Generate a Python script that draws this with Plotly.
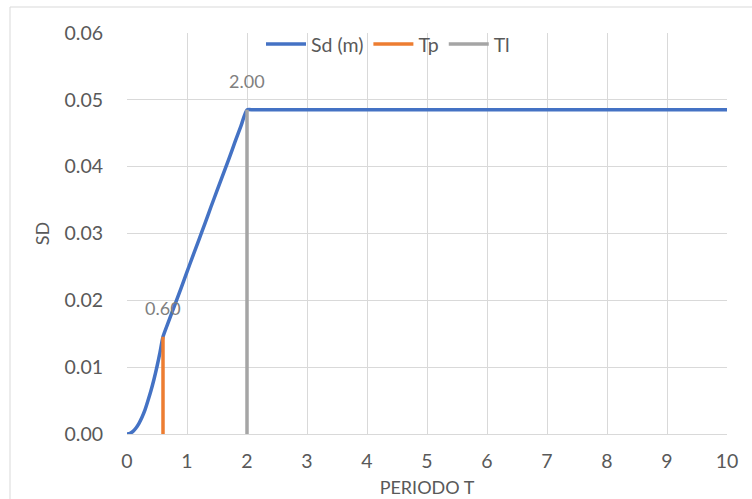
import plotly.graph_objects as go

# Displacement spectrum Sd (m) versus period T (s)
period = [0.0, 0.05, 0.1, 0.15, 0.2, 0.25, 0.3, 0.35, 0.4, 0.45, 0.5, 0.55, 0.6,
          0.7, 0.8, 0.9, 1.0, 1.1, 1.2, 1.3, 1.4, 1.5, 1.6, 1.7, 1.8, 1.9, 2.0,
          2.1, 2.2, 2.5, 3.0, 4.0, 5.0, 6.0, 7.0, 8.0, 9.0, 10.0]
sd = [0.0, 0.0001, 0.0004, 0.0009, 0.0016, 0.0025, 0.0036, 0.0050, 0.0065, 0.0082,
      0.0101, 0.0122, 0.01455,
      0.0170, 0.0194, 0.0218, 0.02425, 0.0267, 0.0291, 0.0315, 0.0340, 0.0364,
      0.0388, 0.0412, 0.0437, 0.0461, 0.0485,
      0.0485, 0.0485, 0.0485, 0.0485, 0.0485, 0.0485, 0.0485, 0.0485, 0.0485,
      0.0485, 0.0485]

# Corner periods Tp and Tl drawn as vertical markers
tp_x = [0.6, 0.6]
tp_y = [0.0, 0.01455]
tl_x = [2.0, 2.0]
tl_y = [0.0, 0.0485]

x_ticks = [0, 1, 2, 3, 4, 5, 6, 7, 8, 9, 10]
y_ticks = [0.0, 0.01, 0.02, 0.03, 0.04, 0.05, 0.06]

BLUE = "#4472C4"
ORANGE = "#ED7D31"
GRAY = "#A5A5A5"
TEXT = "#595959"
GRID = "#D9D9D9"
FONT = "Lato, 'Open Sans', sans-serif"

fig = go.Figure()
fig.add_trace(go.Scatter(x=period, y=sd, mode="lines", name="Sd (m)",
                         line=dict(color=BLUE, width=3.5, shape="spline", smoothing=0.6)))
fig.add_trace(go.Scatter(x=tp_x, y=tp_y, mode="lines", name="Tp",
                         line=dict(color=ORANGE, width=3.5)))
fig.add_trace(go.Scatter(x=tl_x, y=tl_y, mode="lines", name="Tl",
                         line=dict(color=GRAY, width=3.5)))

# Value labels above the top of each corner-period line
for xs, ys in ((tp_x, tp_y), (tl_x, tl_y)):
    fig.add_annotation(x=xs[-1], y=ys[-1], text=f"{xs[-1]:.2f}", showarrow=False,
                       yshift=29, font=dict(family=FONT, size=18, color="#7F7F7F"))

# Light outer chart frame
fig.add_shape(type="rect", xref="paper", yref="paper",
              x0=(10 - 127) / 600, x1=(770 - 127) / 600,
              y0=-0.2, y1=1 + (33 - 7) / 401,
              line=dict(color=GRID, width=1), fillcolor="rgba(0,0,0,0)", layer="below")

fig.update_layout(
    width=752, height=499,
    margin=dict(l=127, r=25, t=33, b=65),
    paper_bgcolor="white", plot_bgcolor="white",
    font=dict(family=FONT, size=19.5, color=TEXT),
    showlegend=True,
    legend=dict(orientation="h", x=0.435, xanchor="center", y=0.972, yanchor="middle",
                bgcolor="rgba(255,255,255,0)", font=dict(size=19.5, color=TEXT),
                itemwidth=40, tracegroupgap=0),
    xaxis=dict(range=[0, 10], tickvals=x_ticks, showgrid=True, gridcolor=GRID,
               gridwidth=1, zeroline=False, showline=True, linecolor=GRID,
               ticks="outside", ticklen=10, tickcolor="rgba(0,0,0,0)", automargin=False,
               title=dict(text="PERIODO T", font=dict(size=18, color=TEXT), standoff=9)),
    yaxis=dict(range=[0, 0.06], tickvals=y_ticks, tickformat=".2f", showgrid=True,
               gridcolor=GRID, gridwidth=1, zeroline=False, showline=False,
               ticks="outside", ticklen=19, tickcolor="rgba(0,0,0,0)", automargin=False,
               title=dict(text="SD", font=dict(size=18, color=TEXT), standoff=10)),
)

fig.write_html("out.html")
